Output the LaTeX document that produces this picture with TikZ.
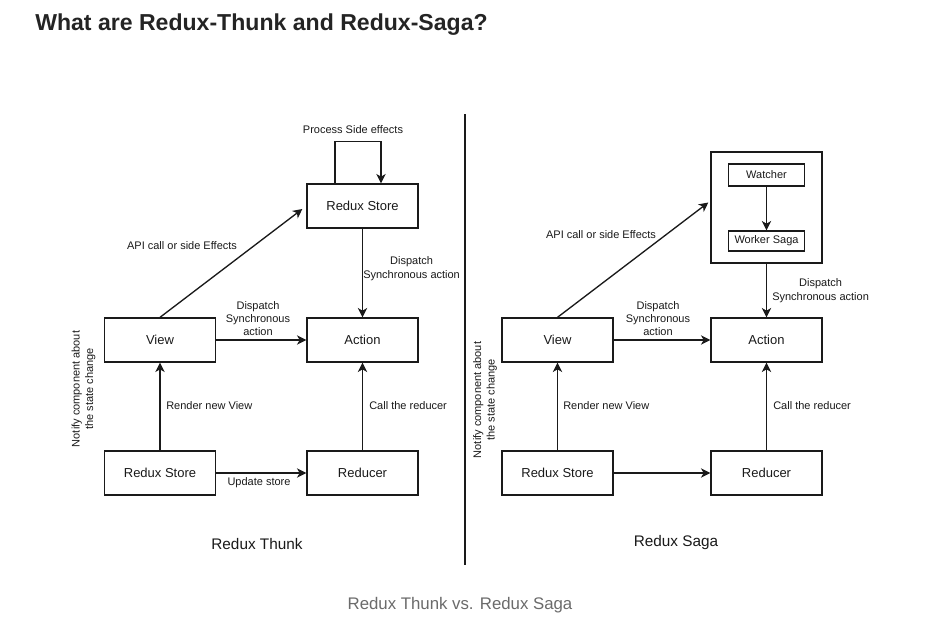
\documentclass[tikz,border=0pt]{standalone}
\usepackage{fontspec}
\setmainfont{Liberation Sans}
\usetikzlibrary{arrows.meta,calc}
\definecolor{ink}{HTML}{1A1A1A}
\definecolor{titleink}{HTML}{242424}
\definecolor{capgray}{HTML}{6B6B6B}
\begin{document}
\begin{tikzpicture}[x=0.75pt,y=-0.75pt,
  box/.style={draw=ink,line width=1pt,minimum width=83.25pt,minimum height=33pt,
    inner sep=0pt,font=\fontsize{9.75}{11}\selectfont,text=ink},
  smallbox/.style={draw=ink,line width=1pt,minimum width=57pt,inner sep=0pt,
    font=\fontsize{8.25}{9.5}\selectfont,text=ink},
  lbl/.style={inner sep=0pt,align=center,font=\fontsize{8.25}{10}\selectfont,text=ink},
  sub/.style={inner sep=0pt,font=\fontsize{11.5}{13}\selectfont,text=ink},
  arr/.style={draw=ink,line width=1pt,-{Stealth[length=7pt,width=7pt,inset=2pt]}},
  ln/.style={draw=ink,line width=1pt}]
\useasboundingbox[fill=white] (0,0) rectangle (927,628);

% heading
\node[anchor=west,inner sep=0pt,text=titleink,font=\bfseries\fontsize{17.3}{20}\selectfont] (title) at (35,25) {What are Redux-Thunk and Redux-Saga?};

% ---------- Redux Thunk ----------
\node[box] (lstore)   at (362.5,206) {Redux Store};
\node[box] (lview)    at (160,340)   {View};
\node[box] (laction)  at (362.5,340) {Action};
\node[box] (lrstore)  at (160,473)   {Redux Store};
\node[box] (lreducer) at (362.5,473) {Reducer};

\draw[arr] ($(lstore.north)+(-27.5,0)$) |- ($(lstore.north)+(18.5,-42)$) -- ($(lstore.north)+(18.5,0)$);
\node[lbl] (lside) at (353,130) {Process Side effects};

\draw[arr] (lview.north) -- ([shift={(-4,3)}]lstore.west);
\node[lbl] (lapi) at (182,246) {API call or side Effects};

\draw[arr] (lstore.south) -- (laction.north);
\node[lbl,anchor=west] (ldisp) at (363,268.5) {Dispatch\\Synchronous action};

\draw[arr] (lview.east) -- (laction.west);
\node[lbl] (lsync) at (258,318.5) {Dispatch\\Synchronous\\action};

\draw[arr] (lrstore.north) -- (lview.south);
\node[lbl,anchor=west] (lrender) at (166,406) {Render new View};

\draw[arr] (lreducer.north) -- (laction.south);
\node[lbl,anchor=west] (lcall) at (369,406) {Call the reducer};

\draw[arr] (lrstore.east) -- (lreducer.west);
\node[lbl] (lupd) at (259,483) {Update store};

\node[lbl,rotate=90] (lnotify) at (83.5,389) {Notify component about\\the state change};
\node[sub] (lname) at (257,544) {Redux Thunk};

% divider
\coordinate (dtop) at (465,114);
\coordinate (dbot) at (465,565);
\draw[draw=ink,line width=0.8pt] (dtop) -- (dbot);

% ---------- Redux Saga ----------
\node[box,minimum height=83.25pt] (saga) at (766.5,207.5) {};
\node[smallbox,minimum height=16.5pt] (watcher) at (766.5,175) {Watcher};
\node[smallbox,minimum height=15pt] (worker) at (766.5,241) {Worker Saga};
\draw[arr] (watcher.south) -- (worker.north);

\node[box] (rview)    at (557.5,340) {View};
\node[box] (raction)  at (766.5,340) {Action};
\node[box] (rrstore)  at (557.5,473) {Redux Store};
\node[box] (rreducer) at (766.5,473) {Reducer};

\draw[arr] (rview.north) -- ([shift={(-2,-5)}]saga.west);
\node[lbl] (rapi) at (601,235) {API call or side Effects};

\draw[arr] (saga.south) -- (raction.north);
\node[lbl,anchor=west] (rdisp) at (772,290.5) {Dispatch\\Synchronous action};

\draw[arr] (rview.east) -- (raction.west);
\node[lbl] (rsync) at (658,318.5) {Dispatch\\Synchronous\\action};

\draw[arr] (rrstore.north) -- (rview.south);
\node[lbl,anchor=west] (rrender) at (563,406) {Render new View};

\draw[arr] (rreducer.north) -- (raction.south);
\node[lbl,anchor=west] (rcall) at (773,406) {Call the reducer};

\draw[arr] (rrstore.east) -- (rreducer.west);

\node[lbl,rotate=90] (rnotify) at (485,400) {Notify component about\\the state change};
\node[sub] (rname) at (676,543) {Redux Saga};

% caption
\node[inner sep=0pt,text=capgray,font=\fontsize{12.6}{15}\selectfont] (caption) at (460,605) {Redux Thunk vs. Redux Saga};
\end{tikzpicture}
\end{document}
